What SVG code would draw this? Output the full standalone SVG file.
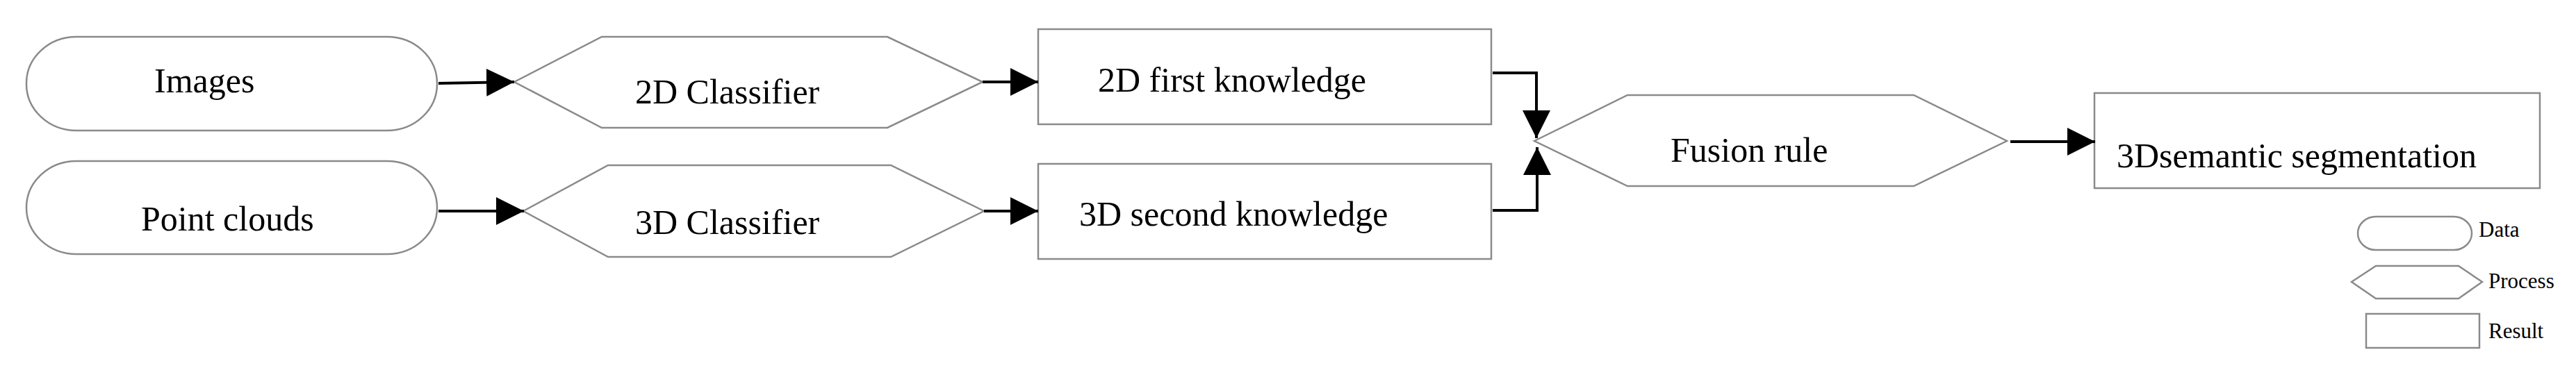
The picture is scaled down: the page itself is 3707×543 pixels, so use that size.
<svg xmlns="http://www.w3.org/2000/svg" width="3707" height="543" viewBox="0 0 3707 543">
<style>
.shape{fill:#fff;stroke:#8a8a8a;stroke-width:2.5}
.t{font-family:"Liberation Serif","Times New Roman",serif;font-size:50px;fill:#000}
.lt{font-family:"Liberation Serif","Times New Roman",serif;font-size:31px;fill:#000}
.c{fill:none;stroke:#000;stroke-width:4}
</style>
<defs>
<marker id="ah" markerUnits="userSpaceOnUse" markerWidth="40" markerHeight="40" viewBox="0 0 38 38" refX="38" refY="19" orient="auto">
<path d="M0,0 L38,19 L0,38 Z" fill="#000"/>
</marker>
</defs>
<rect width="3707" height="543" fill="#fff"/>
<g id="node-images">
<rect class="shape" x="38" y="53" width="591" height="135" rx="72" ry="67"/>
<text class="t" x="222" y="133">Images</text>
</g>
<g id="node-pointclouds">
<rect class="shape" x="38" y="232" width="591" height="134" rx="72" ry="67"/>
<text class="t" x="203" y="332">Point clouds</text>
</g>
<g id="node-2dclassifier">
<polygon class="shape" points="740,118 866,53 1277,53 1414,118 1277,184 866,184"/>
<text class="t" x="914" y="149">2D Classifier</text>
</g>
<g id="node-3dclassifier">
<polygon class="shape" points="753,304 875,238 1282,238 1416,304 1282,370 875,370"/>
<text class="t" x="914" y="337">3D Classifier</text>
</g>
<g id="node-2dfirst">
<rect class="shape" x="1494" y="42" width="652" height="137"/>
<text class="t" x="1580" y="132">2D first knowledge</text>
</g>
<g id="node-3dsecond">
<rect class="shape" x="1494" y="236" width="652" height="137"/>
<text class="t" x="1553" y="325">3D second knowledge</text>
</g>
<g id="node-fusion">
<polygon class="shape" points="2208,203 2342,137 2754,137 2888,203 2754,268 2342,268"/>
<text class="t" x="2404" y="233">Fusion rule</text>
</g>
<g id="node-3dseg">
<rect class="shape" x="3014" y="134" width="641" height="137"/>
<text class="t" x="3046" y="241">3Dsemantic segmentation</text>
</g>
<g id="legend">
<rect class="shape" x="3393" y="312" width="164" height="48" rx="26" ry="24"/>
<text class="lt" x="3567" y="341">Data</text>
<polygon class="shape" points="3384,406 3419,383 3538,383 3572,406 3538,430 3419,430"/>
<text class="lt" x="3581" y="415">Process</text>
<rect class="shape" x="3405" y="452" width="163" height="49"/>
<text class="lt" x="3581" y="487">Result</text>
</g>
<g id="connectors">
<path class="c" d="M631,120 L740,118" marker-end="url(#ah)"/>
<path class="c" d="M631,304 L754,304" marker-end="url(#ah)"/>
<path class="c" d="M1414,118 L1494,118" marker-end="url(#ah)"/>
<path class="c" d="M1416,304 L1494,304" marker-end="url(#ah)"/>
<path class="c" d="M2148,105 L2211,105 L2211,199" stroke-width="5" marker-end="url(#ah)"/>
<path class="c" d="M2148,303 L2212,303 L2212,212" stroke-width="3" marker-end="url(#ah)"/>
<path class="c" d="M2893,204 L3015,204" stroke-width="5" marker-end="url(#ah)"/>
</g>
</svg>
